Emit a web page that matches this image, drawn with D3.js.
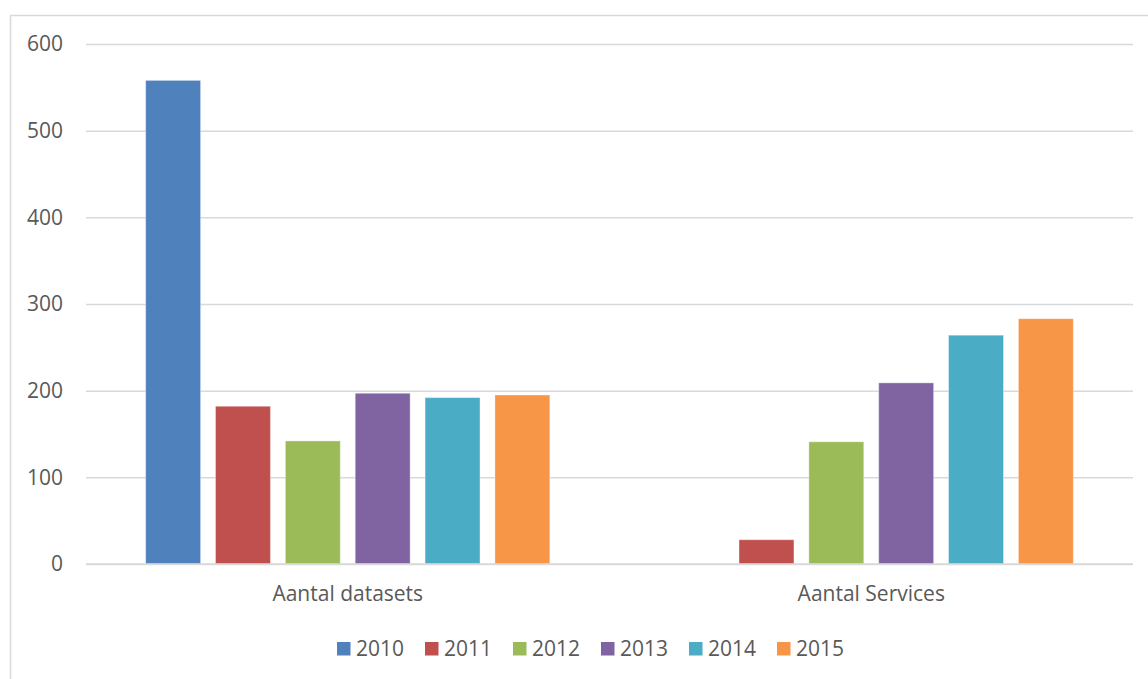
<!DOCTYPE html>
<html>
<head>
<meta charset="utf-8">
<script src="https://cdn.jsdelivr.net/npm/d3@7"></script>
<style>
  body { margin: 0; background: #fff; }
  text { font-family: "Open Sans", sans-serif; fill: #595959; }
</style>
</head>
<body>
<div id="container"></div>
<script>
/* DATA */
const categories = ["Aantal datasets", "Aantal Services"];
const years = ["2010", "2011", "2012", "2013", "2014", "2015"];
const datasets = [558, 182, 142, 197, 192, 195];
const services = [0, 28, 141, 209, 264, 283];
const yTicks = [0, 100, 200, 300, 400, 500, 600];
const colors = ["#4F81BD", "#C0504D", "#9BBB59", "#8064A2", "#4BACC6", "#F79646"];

/* CONSTANTS */
const width = 1148,
  height = 679,
  plotLeft = 86,
  plotRight = 1133,
  plotTop = 44,
  plotBottom = 564,
  fontSize = 21;

const rows = categories.map((c, i) => ({
  cat: c,
  values: years.map((y, j) => ({ year: y, value: (i === 0 ? datasets : services)[j] }))
}));

const svg = d3.select("#container")
  .append("svg")
  .attr("width", width)
  .attr("height", height);

// chart border (only left and top are inside the picture)
svg.append("rect")
  .attr("x", 10.5)
  .attr("y", 15.5)
  .attr("width", 1200)
  .attr("height", 800)
  .attr("fill", "none")
  .attr("stroke", "#d9d9d9")
  .attr("stroke-width", 1.5);

// SCALES
const yScale = d3.scaleLinear()
  .domain([0, 600])
  .range([plotBottom, plotTop]);

const x0 = d3.scaleBand()
  .domain(categories)
  .range([plotLeft, plotRight])
  .paddingInner(0.228)
  .paddingOuter(0.114);

const x1 = d3.scaleBand()
  .domain(years)
  .range([0, x0.bandwidth()])
  .paddingInner(0.214);

const color = d3.scaleOrdinal().domain(years).range(colors);

// GRIDLINES + Y AXIS
const yAxis = d3.axisLeft(yScale)
  .tickValues(yTicks)
  .tickSize(-(plotRight - plotLeft))
  .tickPadding(23);

const gy = svg.append("g")
  .attr("transform", `translate(${plotLeft},0)`)
  .call(yAxis);
gy.select(".domain").remove();
gy.selectAll(".tick line").attr("stroke", "#d9d9d9").attr("stroke-width", 1.5);
gy.selectAll(".tick text")
  .attr("font-size", fontSize)
  .attr("fill", "#595959")
  .style("font-family", "'Open Sans', sans-serif");

// BARS
const groups = svg.selectAll("g.cat")
  .data(rows)
  .join("g")
  .attr("class", "cat")
  .attr("transform", d => `translate(${x0(d.cat)},0)`);

groups.selectAll("rect")
  .data(d => d.values.filter(v => v.value > 0))
  .join("rect")
  .attr("x", d => x1(d.year))
  .attr("y", d => yScale(d.value))
  .attr("width", x1.bandwidth())
  .attr("height", d => yScale(0) - yScale(d.value))
  .attr("fill", d => color(d.year))
  .attr("stroke", "#ffffff")
  .attr("stroke-opacity", 0.35)
  .attr("stroke-width", 1);

// X AXIS
const xAxis = d3.axisBottom(x0).tickSize(0).tickPadding(22);
const gx = svg.append("g")
  .attr("transform", `translate(0,${plotBottom})`)
  .call(xAxis);
gx.select(".domain").attr("stroke", "#d9d9d9").attr("stroke-width", 1.5)
  .attr("d", `M${plotLeft},0H${plotRight}`);
gx.selectAll(".tick text")
  .attr("font-size", fontSize)
  .attr("fill", "#595959")
  .style("font-family", "'Open Sans', sans-serif");

// LEGEND
const legend = svg.append("g")
  .attr("transform", "translate(337,642)");

const item = legend.selectAll("g")
  .data(years)
  .join("g")
  .attr("transform", (d, i) => `translate(${i * 88},0)`);

item.append("rect")
  .attr("width", 13.5)
  .attr("height", 13.5)
  .attr("fill", d => color(d));

item.append("text")
  .attr("x", 19)
  .attr("y", 14)
  .attr("font-size", fontSize)
  .text(d => d);
</script>
</body>
</html>
